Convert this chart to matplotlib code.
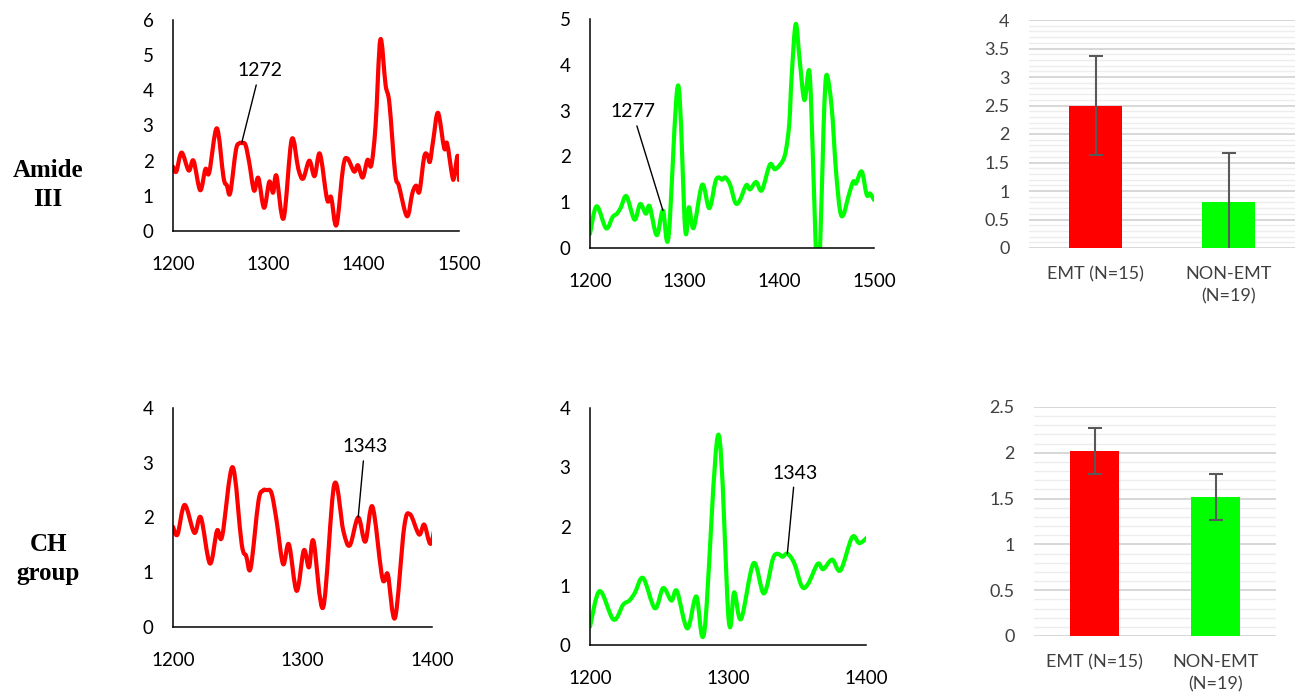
import matplotlib
matplotlib.use("Agg")
import matplotlib.pyplot as plt
import numpy as np
from matplotlib.path import Path
from matplotlib.patches import PathPatch
from matplotlib.ticker import FuncFormatter

plt.rcParams['font.family'] = ['Lato', 'DejaVu Sans']

# EMT spectrum (red)
emt_x = [1200, 1203.5, 1209, 1216.5, 1221.5, 1228.5, 1234, 1238, 1246, 1253, 1256.5, 1260,
         1266, 1269.5, 1272, 1276, 1280, 1285, 1289.5, 1295.5, 1301, 1305, 1308.5, 1316,
         1324.5, 1331.5, 1336.5, 1343, 1348.5, 1354, 1361, 1363.5, 1366, 1371.5, 1378.5,
         1383, 1390, 1394, 1399, 1404, 1408, 1412.5, 1417.5, 1423, 1427, 1433, 1437,
         1445.5, 1451, 1455, 1458.5, 1463.5, 1467, 1469.5, 1473, 1478, 1484.5, 1487.5,
         1493, 1495, 1498.5, 1500]
emt_y = [1.83, 1.69, 2.23, 1.72, 2.0, 1.16, 1.76, 1.66, 2.92, 1.52, 1.3, 1.08,
         2.3, 2.49, 2.5, 2.45, 1.94, 1.15, 1.51, 0.66, 1.4, 1.09, 1.57, 0.36,
         2.6, 1.76, 1.49, 2.0, 1.56, 2.2, 0.98, 0.85, 0.95, 0.17, 1.82,
         2.06, 1.69, 1.87, 1.52, 2.02, 1.87, 3.0, 5.44, 4.15, 3.63, 1.64, 1.28,
         0.42, 1.07, 1.29, 1.12, 2.11, 2.16, 1.97, 2.59, 3.36, 2.35, 2.49,
         1.55, 1.55, 2.14, 1.45]

# NON-EMT spectrum (green)
non_x = [1200, 1207, 1217, 1224, 1228.5, 1232.5, 1238.5, 1247, 1253, 1259, 1263, 1270.5,
         1277, 1283, 1293, 1300.5, 1304.5, 1309.5, 1318.5, 1326, 1332.5, 1336, 1339.5,
         1343, 1348, 1353.5, 1358, 1365, 1369, 1375.5, 1381.5, 1390, 1395.5, 1403.5,
         1407, 1410.5, 1413, 1417.3, 1421.5, 1426.5, 1431.7, 1435.2, 1438.5, 1441, 1443,
         1445.8, 1447.5, 1450, 1455.2, 1459.8, 1464, 1467.6, 1472.9, 1478, 1481, 1487,
         1492.3, 1495.8, 1500]
non_y = [0.31, 0.91, 0.43, 0.68, 0.75, 0.88, 1.13, 0.62, 0.96, 0.75, 0.91, 0.28,
         0.82, 0.25, 3.55, 0.42, 0.89, 0.44, 1.38, 0.87, 1.45, 1.54, 1.49,
         1.54, 1.38, 0.99, 1.03, 1.37, 1.28, 1.44, 1.26, 1.82, 1.72, 1.9,
         2.14, 2.72, 3.74, 4.89, 4.1, 3.23, 3.86, 2.14, 0.0, -1.0, 0.0,
         1.92, 3.09, 3.78, 3.09, 1.7, 0.83, 0.72, 1.12, 1.45, 1.41, 1.67,
         1.16, 1.19, 1.05]

groups = ['EMT (N=15)', 'NON-EMT\n(N=19)']
amide_mean = [2.5, 0.8]
amide_err = [0.86, 0.86]
ch_mean = [2.02, 1.52]
ch_err = [0.25, 0.25]

RED = '#ff0000'
GREEN = '#00ff00'


def smooth_line(ax, x, y, color):
    # smoothed line (Catmull-Rom style bezier through every point)
    pts = np.column_stack([x, y])
    n = len(pts)
    verts = [pts[0]]
    codes = [Path.MOVETO]
    for i in range(n - 1):
        p0 = pts[max(i - 1, 0)]
        p1 = pts[i]
        p2 = pts[i + 1]
        p3 = pts[min(i + 2, n - 1)]
        verts += [p1 + (p2 - p0) / 6, p2 - (p3 - p1) / 6, p2]
        codes += [Path.CURVE4] * 3
    ax.add_patch(PathPatch(Path(verts, codes), fill=False, edgecolor=color,
                           lw=3, capstyle='round', joinstyle='round'))


def spectrum_axes(rect, x, y, color, xlim, ylim, note, note_xy, text_xy):
    ax = fig.add_axes(rect)
    smooth_line(ax, x, y, color)
    ax.set_xlim(*xlim)
    ax.set_ylim(0, ylim)
    ax.set_xticks(np.arange(xlim[0], xlim[1] + 1, 100))
    ax.set_yticks(np.arange(0, ylim + 1, 1))
    for s in ['top', 'right']:
        ax.spines[s].set_visible(False)
    for s in ['left', 'bottom']:
        ax.spines[s].set_linewidth(1.1)
    ax.tick_params(length=0, labelsize=13.5)
    ax.tick_params(axis='x', pad=18)
    ax.tick_params(axis='y', pad=14)
    ax.annotate(note, xy=note_xy, xytext=text_xy, ha='center', va='center',
                fontsize=14,
                arrowprops=dict(arrowstyle='-', color='black', lw=1,
                                shrinkA=2, shrinkB=0))
    return ax


def bar_axes(rect, means, errs, top):
    ax = fig.add_axes(rect)
    ax.bar([0, 1], means, width=0.4, color=[RED, GREEN], yerr=errs,
           ecolor='#595959', capsize=5,
           error_kw=dict(elinewidth=1.5, capthick=1.5), zorder=3)
    ax.set_xlim(-0.5, 1.5)
    ax.set_ylim(0, top)
    ax.set_xticks([0, 1])
    ax.set_xticklabels(groups, linespacing=1.45)
    ax.set_yticks(np.arange(0, top + 0.01, 0.5))
    ax.set_yticks(np.arange(0, top + 0.01, 0.1), minor=True)
    ax.yaxis.set_major_formatter(FuncFormatter(lambda v, p: '%g' % v))
    ax.grid(which='major', axis='y', color='#d4d4d4', lw=1.3)
    ax.grid(which='minor', axis='y', color='#ededed', lw=1)
    ax.set_axisbelow(True)
    for s in ax.spines.values():
        s.set_visible(False)
    ax.tick_params(which='both', length=0, labelsize=13, colors='#404040')
    ax.tick_params(axis='x', pad=13)
    ax.tick_params(axis='y', pad=14)
    return ax


W, H = 1298, 697
fig = plt.figure(figsize=(W / 100, H / 100), dpi=100)


def box(left, right, top, bottom):
    return [left / W, 1 - bottom / H, (right - left) / W, (bottom - top) / H]


# Amide III row
spectrum_axes(box(173, 459, 20, 231), emt_x, emt_y, RED, (1200, 1500), 6,
              '1272', (1272, 2.5), (1291, 4.55))
spectrum_axes(box(590, 874, 19, 248), non_x, non_y, GREEN, (1200, 1500), 5,
              '1277', (1277, 0.82), (1245, 2.97))
bar_axes(box(1029, 1295, 20, 248), amide_mean, amide_err, 4)

# CH group row
spectrum_axes(box(173, 432, 408, 627), emt_x, emt_y, RED, (1200, 1400), 4,
              '1343', (1343, 2.0), (1348, 3.29))
spectrum_axes(box(590, 866, 408, 645), non_x, non_y, GREEN, (1200, 1400), 4,
              '1343', (1343, 1.54), (1348.5, 2.9))
bar_axes(box(1034, 1276, 407, 636), ch_mean, ch_err, 2.5)

fig.text(48 / W, 1 - 185 / H, 'Amide\nIII', ha='center', va='center',
         family='Liberation Serif', weight='bold', fontsize=18, linespacing=1.3)
fig.text(48 / W, 1 - 559 / H, 'CH\ngroup', ha='center', va='center',
         family='Liberation Serif', weight='bold', fontsize=18, linespacing=1.3)

fig.savefig('out.png', dpi=100)
